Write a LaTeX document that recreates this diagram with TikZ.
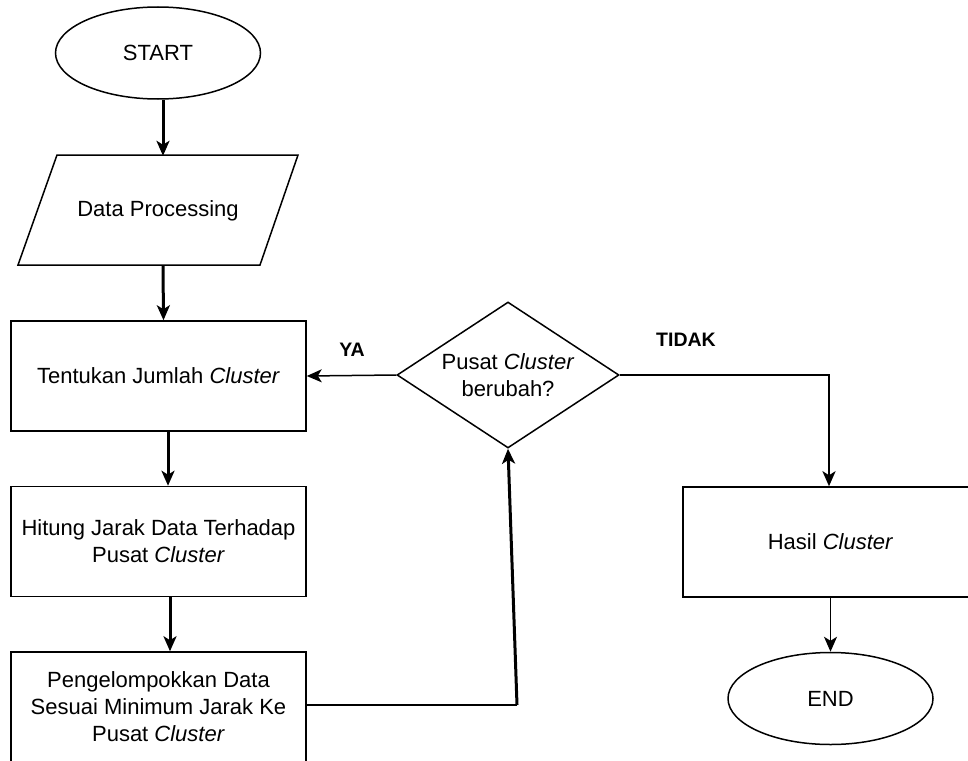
\documentclass[tikz,border=0pt]{standalone}
\usepackage{fontspec}
\setmainfont{Liberation Sans}
\usetikzlibrary{shapes.geometric,arrows.meta}
\newcommand\flowfont{\fontsize{22}{27}\selectfont}
\newcommand\labelfont{\fontsize{19.5}{22}\selectfont\bfseries}

\begin{document}
\begin{tikzpicture}[x=1pt,y=-1pt,
  outline/.style={draw=black, line width=1.5pt},
  procbox/.style={outline, rectangle, minimum width=295pt, minimum height=110pt,
    inner sep=0pt, align=center, font=\flowfont},
  terminal/.style={outline, ellipse, minimum width=205pt, minimum height=92pt,
    inner sep=0pt, font=\flowfont},
  decision/.style={outline, diamond, aspect=1.52, minimum width=222pt,
    minimum height=146pt, inner sep=0pt, align=center, font=\flowfont},
  tip/.style={-{Stealth[length=15pt, width=13pt, inset=4pt]}},
  heavy/.style={tip, line width=3pt},
  light/.style={tip, line width=1.5pt},
  branch/.style={font=\labelfont, inner sep=0pt}]

\useasboundingbox (0,0) rectangle (968,760);

% Nodes
\node[terminal] (start) at (158,53) {START};
\node[minimum width=241pt, minimum height=110pt, inner sep=0pt, font=\flowfont]
  (dp) at (158,211) {Data Processing};
\draw[outline] (57,155) -- (298,155) -- (260,265) -- (18,265) -- cycle;

\node[procbox] (tent) at (158.5,376) {Tentukan Jumlah \textit{Cluster}};
\node[procbox] (hit) at (158.5,541.5) {Hitung Jarak Data Terhadap\\Pusat \textit{Cluster}};
\node[procbox] (grp) at (158.5,707) {Pengelompokkan Data\\Sesuai Minimum Jarak Ke\\Pusat \textit{Cluster}};

\node[decision] (chk) at (508,375) {Pusat \textit{Cluster}\\berubah?};

\node[procbox] (res) at (830.5,542) {Hasil \textit{Cluster}};
\node[terminal] (fin) at (830.5,698.5) {END};

% Branch labels
\node[branch] (ya) at (352,350) {YA};
\node[branch] (tidak) at (686,340) {TIDAK};

% Connectors
\draw[heavy] ([xshift=5pt]start.south) -- ([xshift=5pt]dp.north);
\draw[heavy] ([xshift=5pt]dp.south) -- ([xshift=5pt]tent.north);
\draw[heavy] ([xshift=9.5pt]tent.south) -- ([xshift=9.5pt]hit.north);
\draw[heavy] ([xshift=11.5pt]hit.south) -- ([xshift=11.5pt]grp.north);

\draw[light] (chk.west) -- (tent.east);

\coordinate (tturn) at (829,375);
\draw[tip, line width=2.6pt] (chk.east) -- (tturn) -- (res.north -| tturn);

\draw[light] (res.south) -- (fin.north);

\coordinate (gturn) at (517,705);
\draw[line width=1.5pt] (grp.east |- gturn) -- (gturn);
\draw[heavy] (gturn) -- (chk.south);

\end{tikzpicture}
\end{document}
